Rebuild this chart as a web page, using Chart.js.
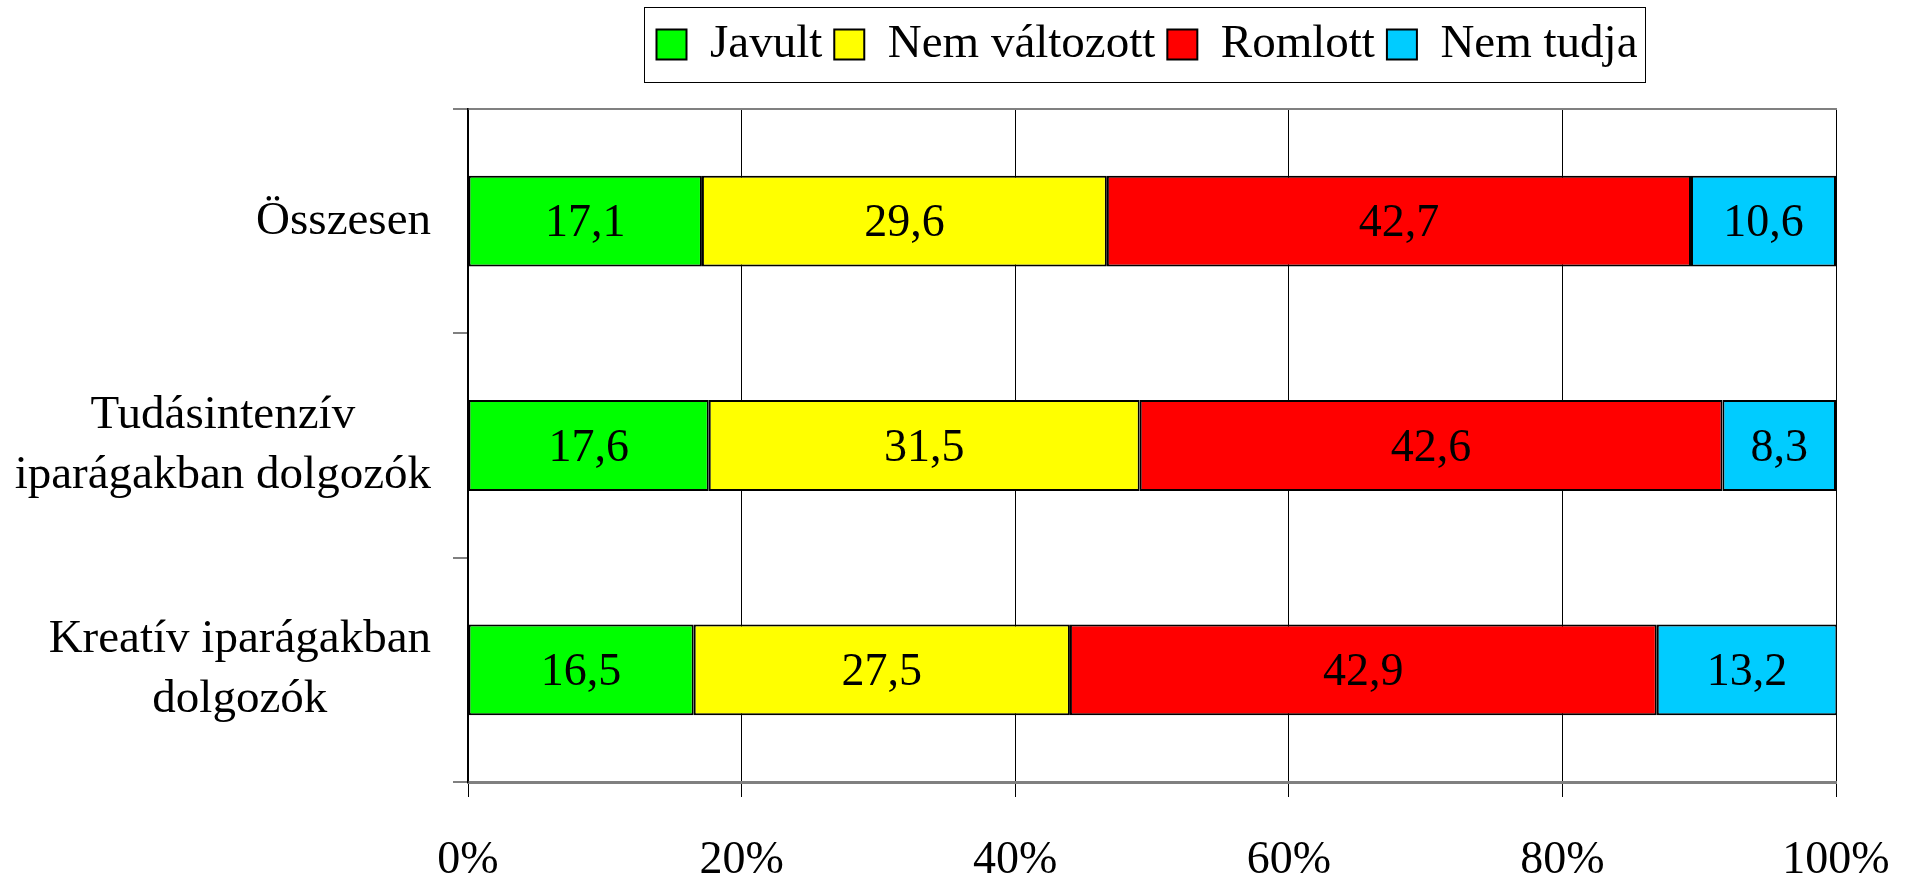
<!DOCTYPE html>
<html lang="hu">
<head>
  <meta charset="UTF-8">
  <title>Javult / Nem változott / Romlott</title>
  <script src="https://cdn.jsdelivr.net/npm/chart.js"></script>
  <style>
    * { margin: 0; padding: 0; box-sizing: border-box; }
    body { background: #fff; width: 1912px; height: 877px; overflow: hidden; }
    canvas { display: block; }
  </style>
</head>
<body>
  <canvas id="chart" width="1912" height="877"></canvas>

  <script>
    // Data
    const categories = [
      'Összesen',
      ['Tudásintenzív', 'iparágakban dolgozók'],
      ['Kreatív iparágakban', 'dolgozók']
    ];
    const seriesNames = ['Javult', 'Nem változott', 'Romlott', 'Nem tudja'];
    const javult = [17.1, 17.6, 16.5];
    const nemValtozott = [29.6, 31.5, 27.5];
    const romlott = [42.7, 42.6, 42.9];
    const nemTudja = [10.6, 8.3, 13.2];
    const xTicks = [0, 20, 40, 60, 80, 100];

    const colors = ['#00ff00', '#ffff00', '#ff0000', '#00ccff'];
    const serif = "'Liberation Serif', 'Times New Roman', serif";

    const series = [javult, nemValtozott, romlott, nemTudja];

    // value labels in the middle of each segment
    const valueLabels = {
      id: 'valueLabels',
      afterDatasetsDraw(chart) {
        const ctx = chart.ctx;
        ctx.save();
        ctx.font = '46px ' + serif;
        ctx.fillStyle = '#000';
        ctx.textAlign = 'center';
        ctx.textBaseline = 'middle';
        chart.data.datasets.forEach((ds, i) => {
          chart.getDatasetMeta(i).data.forEach((bar, j) => {
            const p = bar.getProps(['x', 'y', 'base'], true);
            ctx.fillText(ds.data[j].toFixed(1).replace('.', ','), (p.x + p.base) / 2, p.y + 3);
          });
        });
        ctx.restore();
      }
    };

    // category labels: each block right-aligned to the axis, its lines centred
    const categoryLabels = {
      id: 'categoryLabels',
      afterDraw(chart) {
        const scale = chart.scales.y;
        const ctx = chart.ctx;
        const gap = 37;
        const lineStep = 60;
        ctx.save();
        ctx.font = '47px ' + serif;
        ctx.fillStyle = '#000';
        ctx.textAlign = 'center';
        ctx.textBaseline = 'middle';
        chart.data.labels.forEach((label, i) => {
          const lines = Array.isArray(label) ? label : [label];
          const w = Math.max(...lines.map(l => ctx.measureText(l).width));
          const cx = scale.right - gap - w / 2;
          const cy = scale.getPixelForTick(i);
          lines.forEach((line, k) => {
            ctx.fillText(line, cx, cy + (k - (lines.length - 1) / 2) * lineStep);
          });
        });
        ctx.restore();
      }
    };

    // legend sits over the plot, not the whole canvas; framed
    const legendFrame = {
      id: 'legendFrame',
      afterLayout(chart) {
        const lg = chart.legend;
        const dx = 1147 - (lg.left + lg.right) / 2;
        lg.left += dx;
        lg.right += dx;
      },
      afterDraw(chart) {
        const boxes = chart.legend.legendHitBoxes;
        if (!boxes || !boxes.length) return;
        const left = Math.min(...boxes.map(b => b.left)) - 12;
        const right = Math.max(...boxes.map(b => b.left + b.width)) + 8;
        const top = Math.min(...boxes.map(b => b.top)) - 14;
        const bottom = Math.max(...boxes.map(b => b.top + b.height)) + 14;
        const ctx = chart.ctx;
        ctx.save();
        ctx.strokeStyle = '#000';
        ctx.lineWidth = 1;
        ctx.strokeRect(Math.round(left) + 0.5, Math.round(top) + 0.5, Math.round(right - left), Math.round(bottom - top));
        ctx.restore();
      }
    };

    new Chart(document.getElementById('chart'), {
      type: 'bar',
      data: {
        labels: categories,
        datasets: seriesNames.map((name, i) => ({
          label: name,
          data: series[i],
          backgroundColor: colors[i],
          borderColor: '#000',
          borderWidth: 2,
          borderSkipped: false
        }))
      },
      options: {
        indexAxis: 'y',
        responsive: false,
        animation: false,
        layout: { padding: { left: 0, right: 76, top: 9, bottom: 0 } },
        datasets: {
          bar: { barPercentage: 1, categoryPercentage: 0.405 }
        },
        scales: {
          x: {
            stacked: true,
            min: 0,
            max: 100,
            afterBuildTicks: scale => { scale.ticks = xTicks.map(v => ({ value: v })); },
            afterFit: scale => {
              scale.height = 95;
              scale.paddingLeft = 0;
              scale.paddingRight = 0;
            },
            ticks: {
              callback: v => v + '%',
              font: { family: serif, size: 46 },
              color: '#000',
              padding: 36,
              maxRotation: 0
            },
            grid: { color: '#000', lineWidth: 1, tickLength: 15, tickColor: '#000' },
            border: { display: true, color: '#808080', width: 3 }
          },
          xTop: {
            position: 'top',
            min: 0,
            max: 100,
            afterFit: scale => { scale.height = 31; },
            ticks: { display: false },
            grid: { display: false },
            border: { display: true, color: '#808080', width: 2 }
          },
          y: {
            stacked: true,
            afterFit: scale => {
              scale.width = 468;
              scale.paddingTop = 0;
              scale.paddingBottom = 0;
            },
            ticks: { display: false },
            grid: {
              offset: true,
              drawOnChartArea: false,
              tickLength: 15,
              tickColor: '#808080',
              lineWidth: 2
            },
            border: { display: true, color: '#000', width: 1.5 }
          }
        },
        plugins: {
          legend: {
            position: 'top',
            labels: {
              boxWidth: 30,
              boxHeight: 30,
              color: '#000',
              padding: 12,
              font: { family: serif, size: 47 }
            }
          },
          tooltip: { enabled: false }
        }
      },
      plugins: [valueLabels, categoryLabels, legendFrame]
    });
  </script>
</body>
</html>
